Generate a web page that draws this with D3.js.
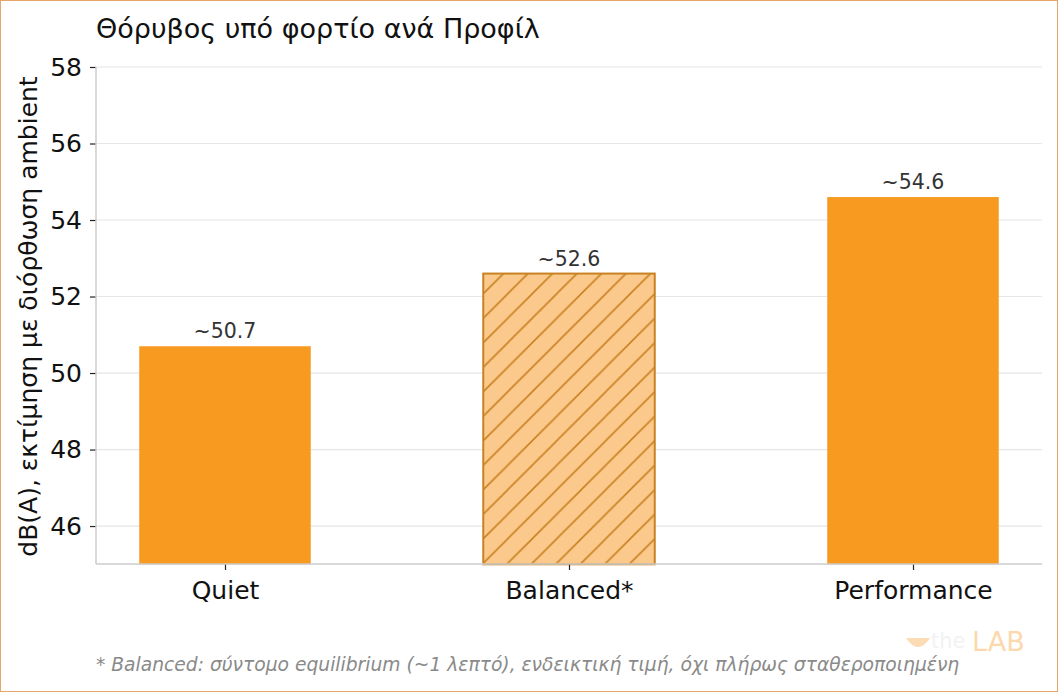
<!DOCTYPE html>
<html><head><meta charset="utf-8">
<script src="https://cdn.jsdelivr.net/npm/d3@7"></script>
<style>
html,body{margin:0;padding:0;background:#fff;}
svg{display:block;font-family:"DejaVu Sans",sans-serif;}
</style></head>
<body><svg id="c" width="1058" height="692"></svg>
<script>
const categories = ["Quiet", "Balanced*", "Performance"];
const values = [50.7, 52.6, 54.6];
const valueLabels = ["~50.7", "~52.6", "~54.6"];
const hatched = [false, true, false];
const yTicks = [46, 48, 50, 52, 54, 56, 58];
const titleText = "Θόρυβος υπό φορτίο ανά Προφίλ";
const yLabelText = "dB(A), εκτίμηση με διόρθωση ambient";
const footnoteText = "* Balanced: σύντομο equilibrium (~1 λεπτό), ενδεικτική τιμή, όχι πλήρως σταθεροποιημένη";

const W = 1058, H = 692;
const m = {left: 96, right: 1042, top: 67, bottom: 564};
const svg = d3.select("#c");

svg.append("rect").attr("x",0.5).attr("y",0.5).attr("width",W-1).attr("height",H-1)
  .attr("fill","#fff").attr("stroke","#e8a56a").attr("stroke-width",1);

const defs = svg.append("defs");
const pat = defs.append("pattern").attr("id","hatch").attr("patternUnits","userSpaceOnUse")
  .attr("width",24.5).attr("height",24.5).attr("patternTransform","translate(483,0)");
pat.append("rect").attr("width",24.5).attr("height",24.5).attr("fill","#fcc98c");
pat.append("path").attr("d","M-2,26.5 L26.5,-2 M-6,6 L6,-6 M18.5,30.5 L30.5,18.5")
  .attr("stroke","#c98222").attr("stroke-width",1.6);

const y = d3.scaleLinear().domain([45, 58]).range([564.3, 67]);
const x = d3.scalePoint().domain(categories).range([225, 913]);
const bw = 171.5;

// grid
svg.append("g").selectAll("line").data(yTicks).join("line")
  .attr("x1", m.left).attr("x2", m.right)
  .attr("y1", d => y(d)).attr("y2", d => y(d))
  .attr("stroke","#e6e6e6").attr("stroke-width",1.2);

// bars
svg.append("g").selectAll("rect").data(values).join("rect")
  .attr("x", (d,i) => x(categories[i]) - bw/2)
  .attr("width", bw)
  .attr("y", d => y(d))
  .attr("height", d => y(45) - y(d))
  .attr("fill", (d,i) => hatched[i] ? "url(#hatch)" : "#f89a20")
  .attr("stroke", (d,i) => hatched[i] ? "#c98222" : "none")
  .attr("stroke-width", 2);

// value labels
svg.append("g").selectAll("text").data(values).join("text")
  .attr("x", (d,i) => x(categories[i]))
  .attr("y", d => y(d) - 8)
  .attr("text-anchor","middle").attr("font-size",20.5).attr("fill","#333")
  .text((d,i) => valueLabels[i]);

// axes
const yAxis = d3.axisLeft(y).tickValues(yTicks).tickSize(6).tickPadding(8);
const gy = svg.append("g").attr("transform",`translate(${m.left},0)`).call(yAxis);
gy.select(".domain").remove();
gy.selectAll(".tick line").attr("stroke","#222").attr("stroke-width",1.2);
gy.selectAll(".tick text").attr("font-size",25).attr("fill","#111").attr("font-family","DejaVu Sans");

const xAxis = d3.axisBottom(x).tickSize(6).tickPadding(11);
const gx = svg.append("g").attr("transform",`translate(0,${m.bottom})`).call(xAxis);
gx.select(".domain").remove();
gx.selectAll(".tick line").attr("stroke","#222").attr("stroke-width",1.2);
gx.selectAll(".tick text").attr("font-size",25).attr("fill","#111").attr("font-family","DejaVu Sans");

// spines
svg.append("line").attr("x1",m.left).attr("x2",m.left).attr("y1",m.top).attr("y2",m.bottom)
  .attr("stroke","#cccccc").attr("stroke-width",1.5);
svg.append("line").attr("x1",m.left).attr("x2",m.right).attr("y1",m.bottom).attr("y2",m.bottom)
  .attr("stroke","#cccccc").attr("stroke-width",1.5);

// title
svg.append("text").attr("x",96).attr("y",38).attr("font-size",27).attr("fill","#111").text(titleText);

// y label
svg.append("text").attr("transform",`translate(37,${(m.top+m.bottom)/2 + 1}) rotate(-90)`)
  .attr("text-anchor","middle").attr("font-size",25).attr("fill","#111").text(yLabelText);

// footnote
svg.append("text").attr("x",96).attr("y",671).attr("font-size",18.7).attr("font-style","italic")
  .attr("fill","#8a8a8a").text(footnoteText);

// watermark
const wm = svg.append("g");
wm.append("path").attr("d","M906,638 Q918,656 930,638 Z").attr("fill","#fbdcb4");
wm.append("text").attr("x",931).attr("y",648).attr("font-size",21).attr("fill","#f2f2f2").text("the");
wm.append("text").attr("x",972).attr("y",651).attr("font-size",27).attr("fill","#fcd9ad").text("LAB");
</script></body></html>
